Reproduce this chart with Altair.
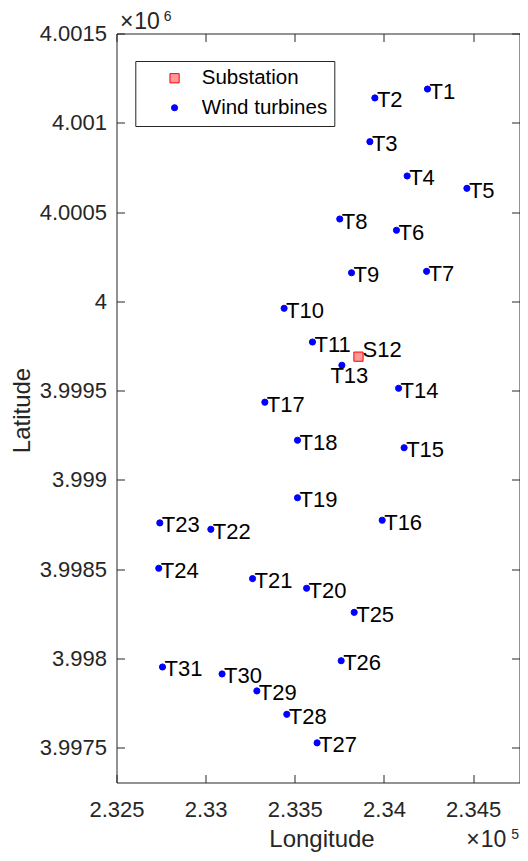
import altair as alt
import pandas as pd

# ---------------- data ----------------
turbine_names = ["T1", "T2", "T3", "T4", "T5", "T6", "T7", "T8", "T9", "T10",
                 "T11", "T13", "T14", "T15", "T16", "T17", "T18", "T19", "T20",
                 "T21", "T22", "T23", "T24", "T25", "T26", "T27", "T28", "T29",
                 "T30", "T31"]
turbine_lon = [234244, 233949, 233921, 234130, 234465, 234070, 234239, 233752,
               233818, 233440, 233599, 233764, 234082, 234113, 233990, 233332,
               233515, 233515, 233566, 233263, 233029, 232743, 232737, 233833,
               233760, 233625, 233455, 233287, 233092, 232758]
turbine_lat = [4001189, 4001139, 4000894, 4000702, 4000633, 4000398, 4000168,
               4000461, 4000160, 3999961, 3999772, 3999642, 3999513, 3999180,
               3998774, 3999435, 3999222, 3998900, 3998393, 3998447, 3998723,
               3998759, 3998505, 3998258, 3997987, 3997527, 3997687, 3997818,
               3997913, 3997952]

substation_names = ["S12"]
substation_lon = [233857]
substation_lat = [3999690]

legend_labels = ["Substation", "Wind turbines"]

x_ticks = [232500, 233000, 233500, 234000, 234500]
y_ticks = [3997500, 3998000, 3998500, 3999000, 3999500, 4000000, 4000500,
           4001000, 4001500]
x_domain = [232500, 234760]
y_domain = [3997305, 4001500]

df = pd.DataFrame({
    "name": substation_names + turbine_names,
    "lon": substation_lon + turbine_lon,
    "lat": substation_lat + turbine_lat,
    "kind": [legend_labels[0]] * len(substation_names)
            + [legend_labels[1]] * len(turbine_names),
})

FONT = "Liberation Sans"
AX = "#262626"
W, H = 403, 749

x_scale = alt.Scale(domain=x_domain, nice=False, zero=False)
y_scale = alt.Scale(domain=y_domain, nice=False, zero=False)

x_axis = alt.Axis(
    orient="bottom", values=x_ticks, labelExpr="'' + (datum.value / 100000)",
    tickSize=8, offset=-8, domain=False, grid=False, tickColor=AX, tickWidth=1,
    labelPadding=17, labelFont=FONT, labelFontSize=22, labelColor=AX,
    labelFlush=False, labelOverlap=False,
    title="Longitude", titleFont=FONT, titleFontSize=24, titleFontWeight="normal",
    titleColor=AX, titleX=205, titleY=71.5, titleBaseline="alphabetic",
)
y_axis = alt.Axis(
    orient="left", values=y_ticks, labelExpr="'' + (datum.value / 1000000)",
    tickSize=8, offset=-8, domain=False, grid=False, tickColor=AX, tickWidth=1,
    labelPadding=10, labelFont=FONT, labelFontSize=22, labelColor=AX,
    labelFlush=False, labelOverlap=False, labelBaseline="middle",
    title="Latitude", titleFont=FONT, titleFontSize=24, titleFontWeight="normal",
    titleColor=AX, titleX=-95, titleY=376.5, titleBaseline="alphabetic",
    titleAngle=270, titleAlign="center",
)
top_axis = alt.Axis(orient="top", values=x_ticks, labels=False, tickSize=8,
                    offset=-8, domain=False, grid=False, tickColor=AX,
                    tickWidth=1, title=None)
right_axis = alt.Axis(orient="right", values=y_ticks, labels=False, tickSize=8,
                      offset=-8, domain=False, grid=False, tickColor=AX,
                      tickWidth=1, title=None)

legend = alt.Legend(
    title=None, orient="none", legendX=18.8, legendY=27.5,
    strokeColor=AX, fillColor="white", padding=7,
    labelFont=FONT, labelFontSize=20.5, labelColor="black", labelLimit=0,
    symbolOffset=22, labelOffset=17, rowPadding=8.5, symbolStrokeWidth=1,
)

points = alt.Chart(df).mark_point(filled=True, opacity=1, strokeWidth=1).encode(
    x=alt.X("lon:Q", scale=x_scale, axis=x_axis),
    y=alt.Y("lat:Q", scale=y_scale, axis=y_axis),
    shape=alt.Shape("kind:N", scale=alt.Scale(domain=legend_labels,
                                              range=["square", "circle"]),
                    legend=legend),
    fill=alt.Fill("kind:N", scale=alt.Scale(domain=legend_labels,
                                            range=["#ff9a9a", "#0000ff"]),
                  legend=legend),
    stroke=alt.Stroke("kind:N", scale=alt.Scale(domain=legend_labels,
                                                range=["#ff0000", "#0000ff"]),
                      legend=legend),
    size=alt.Size("kind:N", scale=alt.Scale(domain=legend_labels,
                                            range=[85, 38]),
                  legend=legend),
)

frame = alt.Chart(df).mark_point(opacity=0).encode(
    x=alt.X("lon:Q", scale=x_scale, axis=top_axis),
    y=alt.Y("lat:Q", scale=y_scale, axis=right_axis),
)


def labels(filter_expr, dx, dy):
    return alt.Chart(df).transform_filter(filter_expr).mark_text(
        align="left", baseline="middle", dx=dx, dy=dy, fontSize=22,
        font=FONT, color="black",
    ).encode(
        x=alt.X("lon:Q", axis=None),
        y=alt.Y("lat:Q", axis=None),
        text="name:N",
    )


lab_main = labels("datum.name != 'S12' && datum.name != 'T13'", 2, 2.5)
lab_s12 = labels("datum.name == 'S12'", 4, -6.7)
lab_t13 = labels("datum.name == 'T13'", -11.5, 11)


def note(text, x, y, size, align):
    return alt.Chart(alt.Data(values=[{}])).mark_text(
        text=text, align=align, baseline="alphabetic", fontSize=size,
        font=FONT, color=AX,
    ).encode(x=alt.value(x), y=alt.value(y))


notes = [
    note("\u00d7", 10.2, -4.5, 23, "center"),
    note("10", 17.7, -4.5, 23, "left"),
    note("6", 47.2, -12.5, 14, "left"),
    note("\u00d7", 356.5, 813, 23, "center"),
    note("10", 364.3, 813, 23, "left"),
    note("5", 394.7, 805, 14, "left"),
]

chart = alt.layer(points, frame, lab_main, lab_s12, lab_t13, *notes).resolve_axis(
    x="independent", y="independent"
).properties(
    width=W, height=H,
    autosize=alt.AutoSizeParams(type="none"),
    padding={"left": 108.5, "top": 25.5, "right": 0.5, "bottom": 69.5},
).configure_view(stroke=AX, strokeWidth=1)

chart.save("out.html", embed_options={"renderer": "svg", "actions": False})
